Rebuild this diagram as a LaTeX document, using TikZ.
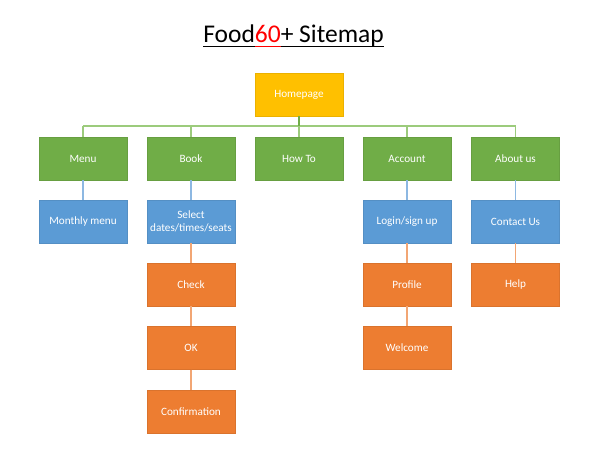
\documentclass[tikz,border=0pt]{standalone}
\usepackage{fontspec}
\setmainfont{Carlito}
\definecolor{cyel}{HTML}{FFC000}
\definecolor{cgrn}{HTML}{70AD47}
\definecolor{cblu}{HTML}{5B9BD5}
\definecolor{corg}{HTML}{ED7D31}
\definecolor{lgrn}{HTML}{9CCB7C}
\definecolor{lblu}{HTML}{8DB8E2}
\definecolor{lorg}{HTML}{F2A674}
\definecolor{titred}{HTML}{FF0000}
\newcommand\myul[1]{\setbox0\hbox{#1}\rlap{\rule[-4pt]{\wd0}{1pt}}\box0}
\begin{document}
\begin{tikzpicture}[x=1pt,y=-1pt,
  box/.style={minimum width=88pt,minimum height=43pt,inner sep=0pt,text=white,
    font=\fontsize{11.2}{12.5}\selectfont,align=center,line width=0.5pt},
  hbox/.style={box,fill=cyel,draw=cyel!92!black},
  gbox/.style={box,fill=cgrn,draw=cgrn!92!black},
  bbox/.style={box,fill=cblu,draw=cblu!92!black},
  obox/.style={box,fill=corg,draw=corg!92!black},
  gline/.style={draw=lgrn,line width=1.1pt},
  bline/.style={draw=lblu,line width=1.1pt},
  oline/.style={draw=lorg,line width=1.1pt}]
\useasboundingbox (0,0) rectangle (600,454);
\node[anchor=base,font=\fontsize{25.5}{28}\selectfont,inner sep=0pt] (title) at (293.5,43)
  {\myul{Food}\textcolor{titred}{\myul{60}}\myul{+ Sitemap}};
\node[hbox] (home) at (299,94.5) {Homepage};
\node[gbox] (menu) at (83,158.5) {Menu};
\node[gbox] (book) at (191,158.5) {Book};
\node[gbox] (howto) at (299,158.5) {How To};
\node[gbox] (acct) at (407,158.5) {Account};
\node[gbox] (about) at (515.5,158.5) {About us};
\node[bbox] (monthly) at (83,221.5) {Monthly menu};
\node[bbox] (select) at (191,221.5) {Select\\dates/times/seats};
\node[bbox] (login) at (407,221.5) {Login/sign up};
\node[bbox] (contact) at (515.5,221.5) {Contact Us};
\node[obox] (check) at (191,284.5) {Check};
\node[obox] (ok) at (191,348) {OK};
\node[obox] (confirm) at (191,411.5) {Confirmation};
\node[obox] (profile) at (407,284.5) {Profile};
\node[obox] (welcome) at (407,348) {Welcome};
\node[obox] (help) at (515.5,284.5) {Help};
\coordinate (b1) at (83,126);
\coordinate (b2) at (191,126);
\coordinate (b3) at (299,126);
\coordinate (b4) at (407,126);
\coordinate (b5) at (515.5,126);
\draw[gline] (b1) -- (b5);
\draw[gline] (b1) -- (menu.north);
\draw[gline] (b2) -- (book.north);
\draw[gline] (b3) -- (howto.north);
\draw[gline] (b4) -- (acct.north);
\draw[gline] (b5) -- (about.north);
\draw[draw=cgrn,line width=1.1pt] (home.south) -- (b3);
\draw[bline] (menu) -- (monthly);
\draw[bline] (book) -- (select);
\draw[bline] (acct) -- (login);
\draw[bline] (about) -- (contact);
\draw[oline] (select) -- (check);
\draw[oline] (check) -- (ok);
\draw[oline] (ok) -- (confirm);
\draw[oline] (login) -- (profile);
\draw[oline] (profile) -- (welcome);
\draw[oline] (contact) -- (help);
\end{tikzpicture}
\end{document}
